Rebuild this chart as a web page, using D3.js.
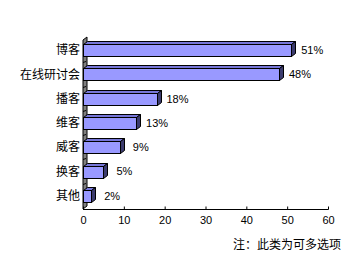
<!DOCTYPE html>
<html><head><meta charset="utf-8">
<script src="https://cdn.jsdelivr.net/npm/d3@7"></script>
<style>body{margin:0;background:#fff}svg{display:block}</style>
</head><body>
<script>
const categories = ["博客","在线研讨会","播客","维客","威客","换客","其他"];
const values = [51,48,18,13,9,5,2];
const xTicks = [0,10,20,30,40,50,60];
const note = "注：此类为可多选项";

const W=353,H=260;
const svg=d3.select("body").append("svg").attr("width",W).attr("height",H);
const x=d3.scaleLinear().domain([0,60]).range([83,328]);
const y=d3.scaleBand().domain(categories).range([38,208]);
const dx=4, dy=3, bh=12;
const cjk="'Noto Sans CJK SC', sans-serif";
const num="'Liberation Sans', Arial, sans-serif";

// wall
const x0=x(0), yB=209, yT=40;
svg.append("path").attr("d",`M${x0},${yT}L${x0+dx},${yT-dy}L${x0+dx},${yB-dy}L${x0},${yB}Z`)
  .attr("fill","#808080").attr("stroke","#000").attr("stroke-width",1);
categories.slice(1).forEach(c=>{
  const yy=Math.round(y(c))+0.5;
  svg.append("line").attr("x1",x0).attr("x2",x0+3).attr("y1",yy).attr("y2",yy-1).attr("stroke","#000");
});

// x axis
const ax=svg.append("g").attr("transform",`translate(0,${yB+0.5})`)
  .call(d3.axisBottom(x).tickValues(xTicks).tickSize(-3).tickPadding(7).tickFormat(d3.format("d")));
ax.select(".domain").attr("d",`M${x0},0H${x(60)+0.5}`).attr("stroke","#000");
ax.selectAll(".tick line").attr("stroke","#000");
ax.selectAll("text").attr("font-family",num).attr("font-size",11).attr("fill","#000");

// bars
const g=svg.append("g");
categories.forEach((c,i)=>{
  const v=values[i];
  const yc=y(c)+y.bandwidth()/2;
  const y1=Math.round(yc-bh/2)+0.5, y2=y1+bh;
  const xl=x0+0.5, xr=Math.round(x(v))+0.5;
  // top face
  g.append("path").attr("d",`M${xl},${y1}L${xl+dx},${y1-dy}L${xr+dx},${y1-dy}L${xr},${y1}Z`)
    .attr("fill","#7676d8").attr("stroke","#000").attr("stroke-width",1);
  // side face
  g.append("path").attr("d",`M${xr},${y1}L${xr+dx},${y1-dy}L${xr+dx},${y2-dy}L${xr},${y2}Z`)
    .attr("fill","#3c3c6e").attr("stroke","#000").attr("stroke-width",1);
  // front face
  g.append("rect").attr("x",xl).attr("y",y1).attr("width",xr-xl).attr("height",bh)
    .attr("fill","#9999ff").attr("stroke","#000").attr("stroke-width",1);
  // value label
  svg.append("text").attr("x",x(v)+21).attr("y",yc).attr("dy","0.35em")
    .attr("text-anchor","middle").attr("font-family",num).attr("font-size",11).text(v+"%");
  // category label
  svg.append("text").attr("x",80).attr("y",yc).attr("dy","0.35em")
    .attr("text-anchor","end").attr("font-family",cjk).attr("font-size",12).text(c);
});

svg.append("text").attr("x",341).attr("y",245).attr("dy","0.35em").attr("text-anchor","end")
  .attr("font-family",cjk).attr("font-size",12).text(note);
</script>
</body></html>
